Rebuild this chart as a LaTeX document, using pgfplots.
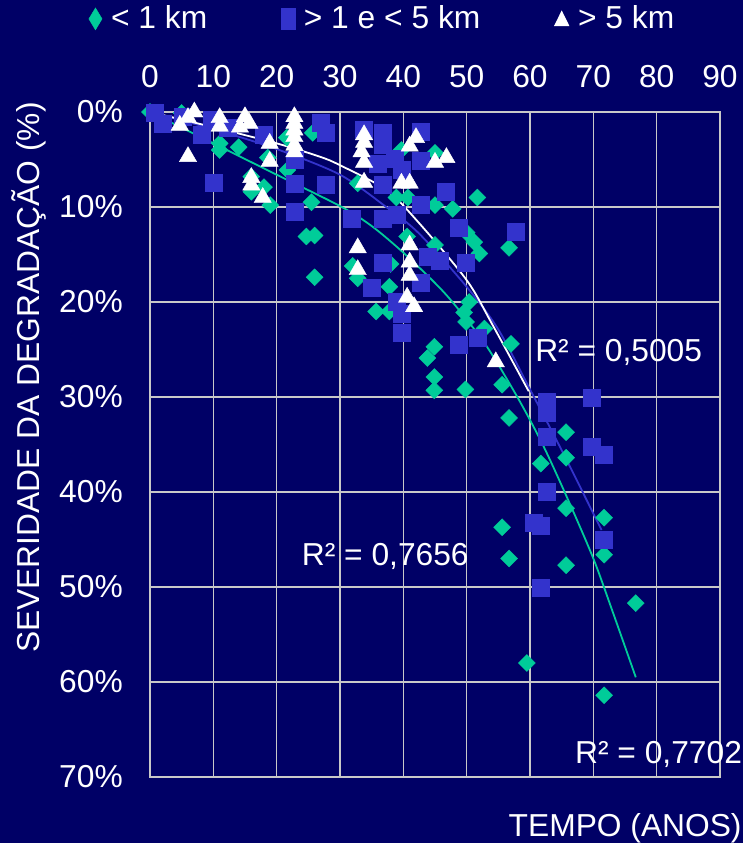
\documentclass[border=0pt]{standalone}
\usepackage{fontspec}
\setmainfont{Liberation Sans}
\usepackage{pgfplots}
\pgfplotsset{compat=1.18}
\definecolor{bg}{RGB}{0,0,102}
\definecolor{grn}{RGB}{0,204,153}
\definecolor{blu}{RGB}{51,51,204}
\definecolor{grd}{RGB}{200,200,200}
\newcommand{\bigf}{\fontsize{31.75}{38}\selectfont}
\begin{document}
\bigf
\begin{tikzpicture}
\useasboundingbox (-150pt,112pt) rectangle (593pt,-731pt);
\fill[bg] (-150pt,112pt) rectangle (593pt,-731pt);
\begin{axis}[
  at={(0pt,0pt)}, anchor=north west,
  scale only axis, width=570pt, height=665pt,
  xmin=0, xmax=90, ymin=0, ymax=70, y dir=reverse,
  xtick={0,10,...,90}, ytick={0,10,...,70},
  xticklabel pos=upper,
  grid=major, major grid style={grd, line width=1.6pt},
  axis line style={grd, line width=1.6pt},
  major tick length=0pt,
  clip=false,
  tick label style={font=\bigf, text=white, inner sep=0pt},
  /pgf/number format/assume math mode=true,
  xticklabel={\pgfmathprintnumber{\tick}},
  yticklabel={\pgfmathprintnumber{\tick}\%},
  xticklabel shift=24pt, yticklabel shift=27pt,
  xlabel={TEMPO (ANOS)},
  xlabel style={at={(axis description cs:0.6290,-0.0898)}, anchor=base west, inner sep=0pt, text=white, font=\bigf},
  ylabel={SEVERIDADE DA DEGRADAÇÃO (\%)},
  ylabel style={at={(axis description cs:-0.1930,0.1865)}, anchor=base west, inner sep=0pt, text=white, font=\bigf},
  legend columns=3,
  legend style={at={(0.408,1.14)}, anchor=center, draw=none, fill=none, text=white,
    font=\bigf, inner sep=0pt,
    /tikz/every odd column/.append style={column sep=7pt},
    /tikz/every even column/.append style={column sep=72pt},
    nodes={inner sep=2pt}},
]
% < 1 km
\addplot[only marks, mark=square*, mark size=6pt, mark options={rotate=45, fill=grn, draw=grn},
  legend image code/.code={\draw[grn, fill=grn] plot[mark=diamond*, mark size=11pt, mark options={xscale=0.8,fill=grn,draw=grn}] coordinates {(0pt,0pt)};}]
coordinates {
(0,0) (5,0.1) (11,3.3) (11,4) (14,3.7) (18.6,4.8) (21.7,6.1) (16,6.8) (18,7.9) (16,8.4)
(19,9.8) (25.5,9.5) (26,13) (24.7,13.1) (26,17.4) (25.7,2.2) (21.6,2.7) (39.7,4) (45,4.3)
(32.8,7.5) (38.9,9) (40.7,9) (45,9.8) (47.8,10.2) (51.7,9) (50,12.7) (51.2,13.7) (52,14.9)
(56.7,14.3) (40.6,13.1) (32,16.2) (38,16) (37.8,18.4) (32.8,17.5) (45,14) (35.7,21) (37.8,21)
(50.4,20) (49.6,21.1) (49.9,22.1) (52.8,22.8) (57,24.4) (44.9,24.7) (43.8,25.9) (44.9,27.9)
(44.9,29.3) (49.8,29.2) (55.6,28.7) (56.7,32.2) (65.7,33.7) (61.7,37) (65.7,36.4) (65.7,41.7)
(71.7,42.7) (55.6,43.7) (56.7,47) (65.7,47.7) (71.7,46.6) (76.7,51.7) (59.5,58) (71.7,61.4)
};
\addlegendentry{< 1 km}
% > 1 e < 5 km
\addplot[only marks, mark=square*, mark size=8.5pt, mark options={fill=blu, draw=blu},
  legend image code/.code={\draw[blu, fill=blu] plot[mark=square*, mark size=10.5pt, mark options={xscale=0.65,fill=blu,draw=blu}] coordinates {(0pt,0pt)};}]
coordinates {
(0.8,0.1) (2,1.2) (5.2,0.5) (9.8,0.8) (8.2,2.4) (12.3,1.6) (18,2.4) (10,7.4) (22.8,5)
(22.8,7.5) (22.8,10.5) (27,1.1) (27.8,2.2) (27.8,7.7) (33.8,1.9) (36.7,2.2) (36.7,3.4)
(42.8,2.1) (42.8,5.1) (38.6,4.9) (35.9,5.4) (39.8,6.1) (36.7,7.7) (46.7,8.4) (42.8,9.8)
(31.8,11.2) (36.7,11.2) (38.9,10.8) (48.7,12.2) (57.8,12.6) (36.7,15.9) (43.8,15.2)
(45.7,15.6) (49.8,15.9) (35,18.5) (42.8,18) (38.9,20) (39.8,21.2) (39.8,23.2) (48.8,24.5)
(51.7,23.8) (62.7,30.5) (62.7,31.7) (62.7,34.2) (69.8,30.1) (69.8,35.2) (71.7,36.1)
(62.7,40) (60.6,43.2) (61.7,43.5) (71.7,45) (61.7,50.1)
};
\addlegendentry{> 1 e < 5 km}
% > 5 km
\addplot[only marks, mark=triangle*, mark size=10pt, mark options={fill=white, draw=white},
  legend image code/.code={\draw[white, fill=white] plot[mark=triangle*, mark size=10pt, mark options={xscale=0.85,fill=white,draw=white}] coordinates {(0pt,-2pt)};}]
coordinates {
(7,0) (6,0.6) (4.7,1.4) (11,0.6) (11,1.5) (15,0.5) (14.2,1.6) (15.7,1.2) (6,4.7) (18.9,3.3)
(18.9,5.2) (16,6.9) (16,7.7) (17.8,9) (22.8,0.5) (22.8,1.2) (22.8,1.9) (22.8,2.6) (22.8,3.5)
(22.8,4.2) (33.8,2.4) (33.8,3.2) (33.4,4.2) (33.8,5.3) (33.8,7.4) (42,2.7) (41,3.6) (45,5.3)
(46.8,4.8) (39.7,7.5) (41,7.5) (32.8,14.3) (32.8,16.6) (41,14) (41,15.8) (41,17.2)
(40.6,19.5) (41.7,20.5) (54.6,26.3)
};
\addlegendentry{> 5 km}
% trend lines
\addplot[grn, line width=1.8pt, smooth, no marks, forget plot] coordinates {
(0,0) (10,3.3) (20,6.6) (30,9.9) (35,12) (40,14.8) (45,18) (48,20.2) (53,24.5) (58,30) (62,35) (66,40.8) (70,47) (73,52.5) (76.7,59.5)
};
\addplot[blu, line width=1.8pt, smooth, no marks, forget plot] coordinates {
(0,0) (10,1.8) (20,3.9) (30,6.6) (37.3,10) (42.5,12.8) (50,18.4) (55,22.9) (60,29.2) (65,35.6) (71.3,44)
};
\addplot[white, line width=1.8pt, smooth, no marks, forget plot] coordinates {
(0,0) (10,1.6) (20,3.3) (26.8,4.7) (30,5.6) (37.3,8.2) (42.5,11.7) (50,17.7) (54,22.3) (59.8,29.4)
};
\node[anchor=base west, inner sep=0pt, text=white, font=\bigf] at (axis cs:60.8,26.3) {R² = 0,5005};
\node[anchor=base west, inner sep=0pt, text=white, font=\bigf] at (axis cs:23.95,47.7) {R² = 0,7656};
\node[anchor=base west, inner sep=0pt, text=white, font=\bigf] at (axis cs:67.1,68.56) {R² = 0,7702};
\end{axis}
\end{tikzpicture}
\end{document}
